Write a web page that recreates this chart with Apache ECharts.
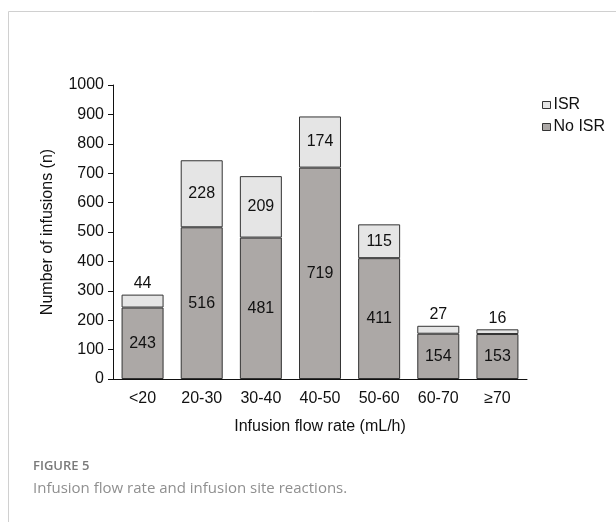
<!DOCTYPE html>
<html>
<head>
<meta charset="utf-8">
<script src="https://cdn.jsdelivr.net/npm/echarts@6/dist/echarts.min.js"></script>
<style>
html,body{margin:0;padding:0;background:#fff;}
#c{width:616px;height:522px;}
</style>
</head>
<body>
<div id="c"></div>
<script>
var categories = ['<20', '20-30', '30-40', '40-50', '50-60', '60-70', '≥70'];
var noIsr = [243, 516, 481, 719, 411, 154, 153];
var isr = [44, 228, 209, 174, 115, 27, 16];
var yTicks = [0, 100, 200, 300, 400, 500, 600, 700, 800, 900, 1000];
var isrOnTop = [true, false, false, false, false, true, true];

var chart = echarts.init(document.getElementById('c'), null, {renderer: 'canvas'});
var font = '"Liberation Sans", Arial, sans-serif';
chart.setOption({
  animation: false,
  backgroundColor: '#fff',
  grid: {left: 113, top: 85, right: 89, bottom: 143},
  legend: {
    orient: 'vertical',
    left: 542, top: 97, padding: 0,
    itemWidth: 8, itemHeight: 7, itemGap: 6,
    icon: 'rect',
    data: ['ISR', 'No ISR'],
    itemStyle: {borderColor: '#333', borderWidth: 1},
    textStyle: {fontFamily: font, fontSize: 16, color: '#111', padding: [0,0,0,-2]}
  },
  xAxis: {
    type: 'category',
    data: categories,
    name: 'Infusion flow rate (mL/h)',
    nameLocation: 'middle',
    nameGap: 40,
    nameTextStyle: {fontFamily: font, fontSize: 16, color: '#111'},
    axisLine: {lineStyle: {color: '#111', width: 1}},
    axisTick: {show: false},
    axisLabel: {fontFamily: font, fontSize: 16, color: '#111', margin: 12}
  },
  yAxis: {
    type: 'value',
    min: yTicks[0], max: yTicks[yTicks.length - 1], interval: 100,
    name: 'Number of infusions (n)',
    nameLocation: 'middle',
    nameGap: 57,
    nameTextStyle: {fontFamily: font, fontSize: 16, color: '#111'},
    axisLine: {show: true, lineStyle: {color: '#111', width: 1}},
    axisTick: {show: true, length: 5, lineStyle: {color: '#111'}},
    splitLine: {show: false},
    axisLabel: {fontFamily: font, fontSize: 16, color: '#111', margin: 9, formatter: function (v) { return String(v); }}
  },
  series: [
    {
      name: 'No ISR', type: 'bar', stack: 's', barWidth: '71%',
      itemStyle: {color: '#aca8a6', borderColor: '#333', borderWidth: 1},
      label: {show: true, position: 'inside', fontFamily: font, fontSize: 16, color: '#111'},
      data: noIsr
    },
    {
      name: 'ISR', type: 'bar', stack: 's', barWidth: '71%',
      itemStyle: {color: '#e5e5e5', borderColor: '#333', borderWidth: 1},
      label: {show: true, fontFamily: font, fontSize: 16, color: '#111'},
      data: isr.map(function (v, i) {
        return {value: v, label: {position: isrOnTop[i] ? 'top' : 'inside', distance: 3}};
      })
    }
  ],
  graphic: [
    {type: 'line', shape: {x1: 8.5, y1: 11.5, x2: 616, y2: 11.5}, style: {stroke: '#d0d0d0', lineWidth: 1}},
    {type: 'line', shape: {x1: 8.5, y1: 11.5, x2: 8.5, y2: 522}, style: {stroke: '#d0d0d0', lineWidth: 1}},
    {type: 'text', left: 33, top: 460, style: {text: 'FIGURE 5', font: '600 13px "Open Sans", sans-serif', fill: '#7a7a7a'}},
    {type: 'text', left: 33, top: 481, style: {text: 'Infusion flow rate and infusion site reactions.', font: '15px "Open Sans", sans-serif', fill: '#8f8f8f'}}
  ]
});
</script>
</body>
</html>
